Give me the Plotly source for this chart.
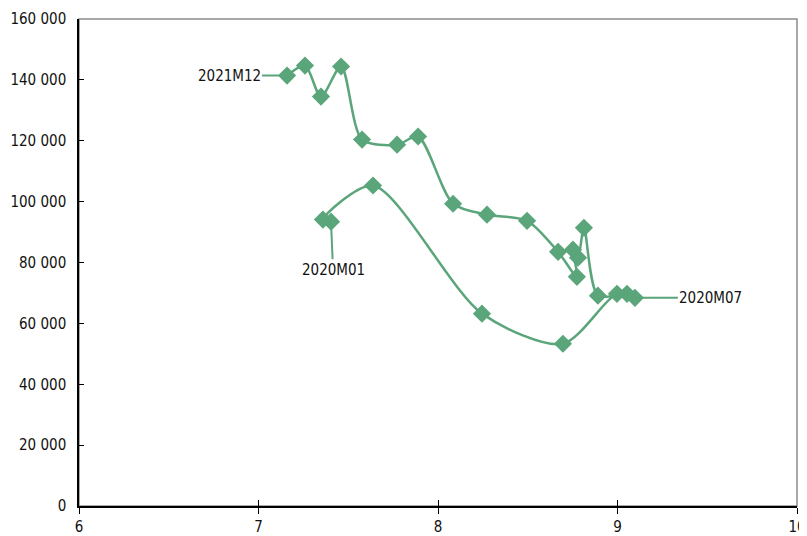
"""Scatter path 2020M01-2021M12 with smoothed connecting line."""

import plotly.graph_objects as go

months = [
    "2020M01", "2020M02", "2020M03", "2020M04", "2020M05", "2020M06",
    "2020M07", "2020M08", "2020M09", "2020M10", "2020M11", "2020M12",
    "2021M01", "2021M02", "2021M03", "2021M04", "2021M05", "2021M06",
    "2021M07", "2021M08", "2021M09", "2021M10", "2021M11", "2021M12",
]
x_vals = [
    7.404, 7.359, 7.638, 8.245, 8.696, 8.997,
    9.097, 9.053, 8.891, 8.813, 8.780, 8.752,
    8.774, 8.669, 8.496, 8.273, 8.084, 7.889,
    7.772, 7.577, 7.460, 7.348, 7.259, 7.159,
]
y_vals = [
    93400, 94100, 105300, 63200, 53300, 69700,
    68400, 69700, 69100, 91400, 81600, 84200,
    75300, 83500, 93700, 95700, 99300, 121400,
    118700, 120400, 144400, 134500, 144700, 141400,
]

# labelled months and where their text sits (pixel offsets from the point)
labels = {"2021M12": (-58, 0), "2020M01": (2, 48), "2020M07": (76, 0)}

GREEN = "#5aa57a"
FONT = "Liberation Sans Narrow, Arial Narrow, DejaVu Sans Condensed, Roboto Condensed, sans-serif"

fig = go.Figure()
fig.add_trace(go.Scatter(
    x=x_vals, y=y_vals, mode="lines+markers",
    line=dict(color=GREEN, width=2.5, shape="spline", smoothing=0.8),
    marker=dict(symbol="diamond", size=14, color=GREEN),
    hovertext=months, showlegend=False,
))
# empty trace so the overlay axis (inner half of crossing x ticks) is drawn
fig.add_trace(go.Scatter(x=[], y=[], xaxis="x2", showlegend=False))

for m, (ax, ay) in labels.items():
    i = months.index(m)
    fig.add_annotation(
        x=x_vals[i], y=y_vals[i], text=m, showarrow=True, arrowhead=0,
        arrowwidth=2, arrowcolor=GREEN, ax=ax, ay=ay, standoff=7,
        font=dict(family=FONT, size=15, color="#111"),
    )

fig.add_shape(type="rect", xref="x domain", yref="y domain", x0=0, x1=1, y0=0, y1=1,
              line=dict(color="#8c8c8c", width=1.5), layer="below")

# the page body adds an 8px offset, so margins are shifted by that much
fig.update_layout(
    width=807, height=536,
    margin=dict(l=71, r=18, t=11, b=38, autoexpand=False),
    plot_bgcolor="white", paper_bgcolor="white",
    separators=". ",
    font=dict(family=FONT, size=15, color="#111"),
    xaxis=dict(range=[6, 10], dtick=1, showgrid=False, zeroline=False, automargin=False,
               showline=True, linecolor="black", linewidth=1.5,
               ticks="outside", ticklen=6, tickcolor="black"),
    xaxis2=dict(overlaying="x", matches="x", range=[6, 10], dtick=1, automargin=False,
                showgrid=False, zeroline=False, showticklabels=False,
                ticks="inside", ticklen=6, tickcolor="black"),
    yaxis=dict(range=[0, 160000], dtick=20000, tickformat=",d", showgrid=False,
               automargin=False, zeroline=False, showline=True, linecolor="black",
               linewidth=1.5, ticks="inside", ticklen=5, tickcolor="black",
               ticklabelstandoff=8),
)

fig.write_html("out.html")
